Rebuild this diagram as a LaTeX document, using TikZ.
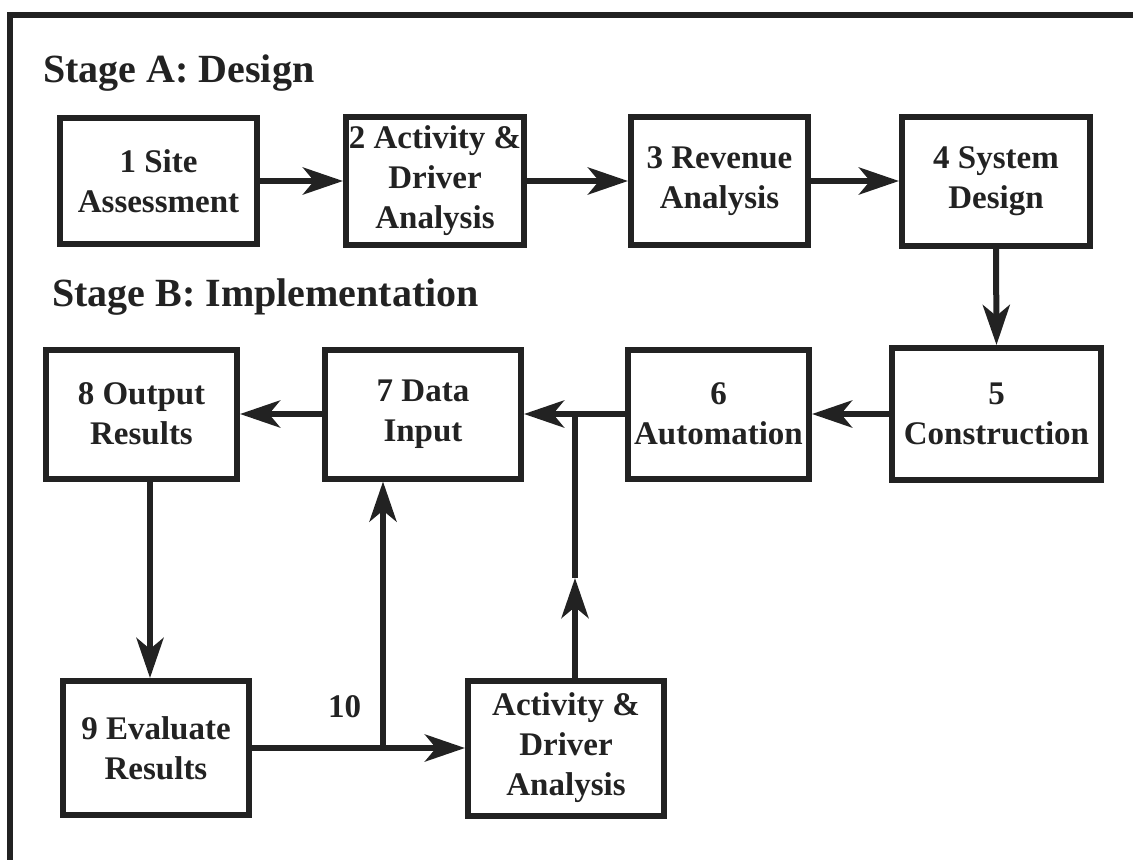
\documentclass[tikz,border=0pt]{standalone}
\usepackage{fontspec}
\setmainfont{LiberationSerif}[Extension=.ttf, UprightFont=*-Regular, BoldFont=*-Bold, ItalicFont=*-Italic, BoldItalicFont=*-BoldItalic]
\usetikzlibrary{arrows.meta}
\definecolor{ink}{HTML}{222222}
\begin{document}
\begin{tikzpicture}[x=1pt,y=-1pt,
  box/.style={draw=ink, line width=6pt, align=center, inner sep=0pt, text=ink,
    font=\bfseries\fontsize{33}{40}\selectfont},
  conn/.style={draw=ink, line width=6pt},
  arr/.style={conn, -{Stealth[length=40pt,width=27pt,inset=11pt]}},
  title/.style={text=ink, anchor=base west, inner sep=0pt, font=\bfseries\fontsize{40}{48}\selectfont},
  lbl/.style={text=ink, anchor=base west, inner sep=0pt, font=\bfseries\fontsize{33}{40}\selectfont}]
\useasboundingbox (0,0) rectangle (1133,860);
% frame (top and left edges)
\draw[ink, line width=6pt] (7,15) -- (1133,15);
\draw[ink, line width=6pt] (10,12) -- (10,860);

% headings
\node[title] (tA) at (43,82) {Stage A: Design};
\node[title] (tB) at (52,306) {Stage B: Implementation};

% Stage A
\node[box, minimum width=197pt, minimum height=126pt] (n1) at (158.5,181) {1 Site\\Assessment};
\node[box, minimum width=178pt, minimum height=128pt] (n2) at (435,181) {2 Activity \&\\Driver\\Analysis};
\node[box, minimum width=177pt, minimum height=128pt] (n3) at (719.5,181) {3 Revenue\\Analysis};
\node[box, minimum width=188pt, minimum height=129pt] (n4) at (996,181) {4 System\\Design};

% Stage B
\node[box, minimum width=209pt, minimum height=132pt] (n5) at (996.5,414) {5\\Construction};
\node[box, minimum width=181pt, minimum height=129pt] (n6) at (718.5,414) {6\\Automation};
\node[box, minimum width=196pt, minimum height=129pt] (n7) at (423,414) {7 Data\\Input};
\node[box, minimum width=191pt, minimum height=129pt] (n8) at (141.5,414) {8 Output\\Results};
\node[box, minimum width=186pt, minimum height=134pt] (n9) at (156,748) {9 Evaluate\\Results};
\node[box, minimum width=196pt, minimum height=135pt] (nA) at (566,748) {Activity \&\\Driver\\Analysis};
\node[lbl] (l10) at (328,717) {10};

% junctions on the lower loop
\coordinate (j1) at (383,748);
\coordinate (m2) at (575,578);

% connectors
\draw[arr] (n1.east) -- (n2.west);
\draw[arr] (n2.east) -- (n3.west);
\draw[arr] (n3.east) -- (n4.west);
\draw[arr] (n4.south) -- (n5.north);
\draw[arr] (n5.west) -- (n6.east);
\draw[arr] (n6.west) -- (n7.east);
\draw[arr] (n7.west) -- (n8.east);
\draw[arr] (n8.south -| 150,0) -- (n9.north -| 150,0);
\draw[arr] (n9.east) -- (nA.west);
\draw[arr] (j1) -- (j1 |- n7.south);
\draw[arr] (nA.north -| m2) -- (m2);
\draw[conn] (m2) -- (m2 |- n6.west);
\end{tikzpicture}
\end{document}
